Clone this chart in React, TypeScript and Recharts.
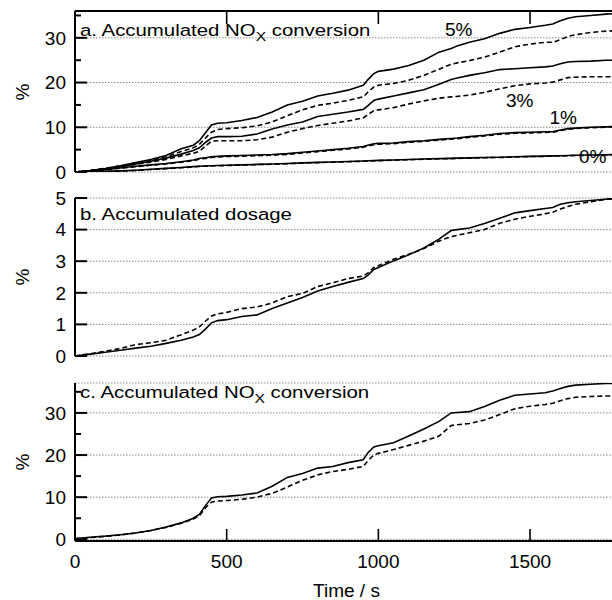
import React from 'react';
import { LineChart, Line, XAxis, YAxis, CartesianGrid } from 'recharts';

// ---------- data ----------
const times = [0, 50, 100, 150, 200, 250, 300, 350, 390, 410, 430, 450, 470, 500, 550, 600, 650, 700, 750, 800, 850, 900, 950, 965, 985, 1000, 1050, 1100, 1150, 1200, 1240, 1260, 1300, 1350, 1400, 1450, 1500, 1550, 1575, 1600, 1625, 1650, 1700, 1750, 1790];

// panel a: accumulated NOx conversion, solid / dashed for 5%, 3%, 1%, 0%
const a5Solid = [0, 0.3, 0.8, 1.4, 2.1, 2.8, 3.7, 5.2, 6.0, 7.0, 8.8, 10.5, 10.9, 11.0, 11.5, 12.2, 13.4, 15.0, 15.8, 17.0, 17.6, 18.3, 19.4, 20.6, 22.0, 22.5, 23.0, 23.8, 25.0, 26.8, 27.6, 28.2, 29.0, 29.8, 31.0, 31.9, 32.3, 32.8, 33.1, 33.8, 34.4, 34.7, 35.0, 35.3, 35.5];
const a5Dashed = [0, 0.3, 0.8, 1.4, 2.0, 2.6, 3.4, 4.6, 5.4, 6.2, 7.6, 8.9, 9.5, 9.7, 9.9, 10.3, 11.2, 12.6, 13.9, 14.9, 15.4, 16.0, 16.8, 17.8, 19.0, 19.4, 19.8, 20.5, 21.6, 23.0, 24.1, 24.4, 24.9, 25.7, 26.8, 28.0, 28.6, 29.0, 29.0, 29.6, 30.3, 30.7, 31.2, 31.5, 31.6];
const a3Solid = [0, 0.3, 0.7, 1.2, 1.8, 2.4, 3.1, 4.0, 4.8, 5.4, 6.6, 7.6, 7.9, 7.9, 8.0, 8.5, 9.6, 10.5, 11.2, 12.4, 12.9, 13.4, 14.0, 14.8, 16.0, 16.3, 17.0, 17.7, 18.4, 19.6, 20.7, 21.0, 21.6, 22.2, 22.9, 23.1, 23.3, 23.5, 23.7, 24.2, 24.6, 24.7, 24.8, 25.0, 25.0];
const a3Dashed = [0, 0.3, 0.7, 1.2, 1.7, 2.2, 2.8, 3.6, 4.2, 4.6, 5.8, 6.9, 7.0, 7.0, 7.0, 7.2, 7.8, 8.9, 9.7, 10.4, 10.9, 11.4, 12.1, 12.8, 13.7, 13.9, 14.4, 15.2, 15.9, 16.5, 16.8, 16.9, 17.2, 17.8, 18.6, 19.3, 19.7, 19.9, 20.1, 20.6, 21.1, 21.2, 21.3, 21.3, 21.3];
const a1Solid = [0, 0.2, 0.5, 0.9, 1.3, 1.6, 1.9, 2.3, 2.7, 3.0, 3.2, 3.4, 3.5, 3.6, 3.7, 3.8, 3.9, 4.1, 4.4, 4.7, 5.0, 5.3, 5.7, 6.0, 6.3, 6.4, 6.5, 6.8, 7.0, 7.3, 7.5, 7.6, 7.9, 8.2, 8.6, 8.8, 8.9, 9.0, 9.0, 9.4, 9.7, 9.8, 10.0, 10.1, 10.2];
const a1Dashed = [0, 0.2, 0.5, 0.85, 1.2, 1.5, 1.8, 2.2, 2.55, 2.85, 3.05, 3.25, 3.35, 3.45, 3.55, 3.65, 3.75, 3.95, 4.25, 4.55, 4.85, 5.15, 5.55, 5.8, 6.1, 6.2, 6.35, 6.65, 6.85, 7.15, 7.35, 7.45, 7.75, 8.05, 8.45, 8.65, 8.75, 8.85, 8.9, 9.25, 9.55, 9.7, 9.9, 10.0, 10.1];
const a0Solid = [0, 0.05, 0.15, 0.25, 0.4, 0.6, 0.8, 1.0, 1.2, 1.3, 1.35, 1.4, 1.45, 1.5, 1.6, 1.7, 1.8, 1.9, 2.05, 2.15, 2.25, 2.35, 2.45, 2.5, 2.55, 2.6, 2.7, 2.8, 2.9, 3.0, 3.05, 3.1, 3.15, 3.25, 3.3, 3.4, 3.5, 3.55, 3.6, 3.65, 3.7, 3.75, 3.8, 3.85, 3.9];
const a0Dashed = [0, 0.05, 0.1, 0.2, 0.35, 0.55, 0.75, 0.95, 1.15, 1.25, 1.3, 1.35, 1.4, 1.45, 1.55, 1.65, 1.75, 1.85, 2.0, 2.1, 2.2, 2.3, 2.4, 2.45, 2.5, 2.55, 2.65, 2.75, 2.85, 2.95, 3.0, 3.05, 3.1, 3.2, 3.25, 3.35, 3.45, 3.5, 3.55, 3.6, 3.65, 3.7, 3.75, 3.8, 3.85];

// panel b: accumulated dosage
const bSolid = [0, 0.06, 0.12, 0.18, 0.25, 0.31, 0.4, 0.5, 0.6, 0.68, 0.85, 1.05, 1.12, 1.15, 1.25, 1.3, 1.5, 1.68, 1.85, 2.06, 2.2, 2.33, 2.45, 2.55, 2.74, 2.8, 3.01, 3.2, 3.42, 3.7, 3.97, 4.0, 4.05, 4.19, 4.36, 4.53, 4.6, 4.67, 4.7, 4.8, 4.85, 4.88, 4.92, 4.96, 4.98];
const bDashed = [0, 0.07, 0.15, 0.24, 0.36, 0.42, 0.5, 0.67, 0.82, 0.92, 1.1, 1.27, 1.33, 1.38, 1.5, 1.55, 1.68, 1.88, 1.98, 2.2, 2.32, 2.45, 2.53, 2.62, 2.8, 2.86, 3.06, 3.22, 3.4, 3.64, 3.78, 3.82, 3.9, 4.0, 4.2, 4.33, 4.42, 4.5, 4.55, 4.65, 4.73, 4.8, 4.88, 4.96, 5.0];

// panel c: accumulated NOx conversion
const cSolid = [0.2, 0.5, 0.75, 1.1, 1.5, 2.1, 2.9, 3.9, 5.0, 5.9, 8.0, 9.8, 10.1, 10.2, 10.5, 11.0, 12.6, 14.7, 15.6, 16.9, 17.3, 18.2, 18.9, 20.5, 21.9, 22.2, 22.9, 24.5, 26.2, 28.0, 30.0, 30.1, 30.3, 31.5, 33.0, 34.2, 34.5, 34.8, 35.2, 35.8, 36.3, 36.6, 36.8, 37.0, 37.0];
const cDashed = [0.1, 0.4, 0.7, 1.05, 1.5, 2.1, 2.8, 3.8, 4.8, 5.6, 7.5, 8.8, 9.1, 9.2, 9.5, 10.0, 10.9, 12.4, 14.0, 15.3, 16.1, 16.6, 17.3, 18.6, 20.0, 20.4, 21.3, 22.3, 23.3, 24.5, 27.0, 27.2, 27.5, 28.3, 29.6, 31.0, 31.6, 32.0, 32.3, 32.9, 33.4, 33.7, 33.9, 34.0, 34.0];

// ticks
const xTicksTop = [500, 1000, 1500];
const xTicksBottom = [0, 500, 1000, 1500];
const yTicksA = [0, 5, 10, 15, 20, 25, 30, 35];
const yMajorA = [0, 10, 20, 30];
const yTicksB = [0, 1, 2, 3, 4, 5];
const yTicksC = [0, 5, 10, 15, 20, 25, 30, 35];
const yMajorC = [0, 10, 20, 30];

const xDomain: [number, number] = [0, 1790];

const dataA = times.map((t, i) => ({
  t, a5s: a5Solid[i], a5d: a5Dashed[i], a3s: a3Solid[i], a3d: a3Dashed[i],
  a1s: a1Solid[i], a1d: a1Dashed[i], a0s: a0Solid[i], a0d: a0Dashed[i],
}));
const dataB = times.map((t, i) => ({ t, s: bSolid[i], d: bDashed[i] }));
const dataC = times.map((t, i) => ({ t, s: cSolid[i], d: cDashed[i] }));

// ---------- layout / styles ----------
const FONT = '"Liberation Sans", Arial, Helvetica, sans-serif';
const AXIS = { stroke: '#000', strokeWidth: 2 };
const LINE_W = 1.6;
const DASH = '5 3';
const CHART_W = 618;
const Y_AXIS_W = 75;
const PLOT_TOP_A = 11;
const PLOT_BOTTOM_C = 541;
// same linear mapping as the charts' x axis (plot spans Y_AXIS_W .. CHART_W)
const sx = (v: number) => Y_AXIS_W + ((v - xDomain[0]) / (xDomain[1] - xDomain[0])) * (CHART_W - Y_AXIS_W);

const makeLeftTick = (majors: number[]) => (props: any) => {
  const { x, y, payload } = props;
  const v = Number(payload.value);
  const major = majors.some((m) => Math.abs(m - v) < 1e-6);
  return (
    <g>
      <line x1={x} y1={y} x2={x + (major ? 12 : 6)} y2={y} stroke="#000" strokeWidth={2} />
      {major && (
        <text x={x - 9} y={y} dy="0.36em" textAnchor="end" fontSize={19} fontFamily={FONT} fill="#000">
          {v}
        </text>
      )}
    </g>
  );
};

const RightTick = (props: any) => {
  const { x, y } = props;
  return <line x1={x - 12} y1={y} x2={x} y2={y} stroke="#000" strokeWidth={2} />;
};

const BottomTickLabel = (props: any) => {
  const { x, y, payload } = props;
  return (
    <text x={x} y={y + 27} textAnchor="middle" fontSize={19} fontFamily={FONT} fill="#000">
      {payload.value}
    </text>
  );
};

const solid = (key: string) => (
  <Line key={key} type="linear" dataKey={key} stroke="#000" strokeWidth={LINE_W} dot={false} isAnimationActive={false} />
);
const dashed = (key: string) => (
  <Line key={key} type="linear" dataKey={key} stroke="#000" strokeWidth={LINE_W} strokeDasharray={DASH} dot={false} isAnimationActive={false} />
);

const gridProps = { vertical: false, stroke: '#8a8a8a', strokeDasharray: '1.5 1.5', yAxisId: 'right' } as any;

const Title = ({ x, y, children }: { x: number; y: number; children: React.ReactNode }) => (
  <text transform={`translate(${x},${y}) scale(1.2,1)`} fontSize={17} fontFamily={FONT} fill="#000">
    {children}
  </text>
);

const NOxTitle = ({ prefix }: { prefix: string }) => (
  <>
    {prefix}. Accumulated NO
    <tspan fontSize={13} dy={5}>X</tspan>
    <tspan dy={-5}> conversion</tspan>
  </>
);

const PctLabel = ({ cy }: { cy: number }) => (
  <text x={28.5} y={cy} transform={`rotate(-90, 28.5, ${cy})`} textAnchor="middle" fontSize={19} fontFamily={FONT} fill="#000">
    %
  </text>
);

const Note = ({ x, y, text }: { x: number; y: number; text: string }) => (
  <text x={x} y={y} fontSize={19} fontFamily={FONT} fill="#000">{text}</text>
);

export default function App() {
  return (
    <div style={{ position: 'absolute', left: 0, top: 0, width: 612, height: 600, overflow: 'hidden', background: '#fff' }}>
      {/* panel a */}
      <div style={{ position: 'absolute', left: 0, top: 0 }}>
        <LineChart width={CHART_W} height={184} data={dataA} margin={{ top: 0, right: 0, bottom: 12, left: 0 }}>
          <XAxis dataKey="t" type="number" domain={xDomain} allowDataOverflow hide />
          <XAxis xAxisId="top" orientation="top" dataKey="t" type="number" domain={xDomain} allowDataOverflow
            height={PLOT_TOP_A} tick={false} tickLine={false} axisLine={AXIS} />
          <YAxis type="number" domain={[0, 36]} allowDataOverflow ticks={yTicksA} interval={0} width={Y_AXIS_W} tickSize={0} tickMargin={0}
            tickLine={false} axisLine={AXIS} tick={makeLeftTick(yMajorA)} />
          <YAxis yAxisId="right" orientation="right" type="number" domain={[0, 36]} allowDataOverflow ticks={yMajorA} interval={0}
            width={0} tickSize={0} tickMargin={0} tickLine={false} axisLine={AXIS} tick={RightTick} />
          <CartesianGrid {...gridProps} />
          {solid('a0s')}
          {dashed('a0d')}
          {solid('a1s')}
          {dashed('a1d')}
          {solid('a3s')}
          {dashed('a3d')}
          {solid('a5s')}
          {dashed('a5d')}
        </LineChart>
      </div>

      {/* panel b */}
      <div style={{ position: 'absolute', left: 0, top: 185 }}>
        <LineChart width={CHART_W} height={185} data={dataB} margin={{ top: 13, right: 0, bottom: 14, left: 0 }}>
          <XAxis dataKey="t" type="number" domain={xDomain} allowDataOverflow hide />
          <YAxis type="number" domain={[0, 5]} allowDataOverflow ticks={yTicksB} interval={0} width={Y_AXIS_W} tickSize={0} tickMargin={0}
            tickLine={false} axisLine={AXIS} tick={makeLeftTick(yTicksB)} />
          <YAxis yAxisId="right" orientation="right" type="number" domain={[0, 5]} allowDataOverflow ticks={yTicksB} interval={0}
            width={0} tickSize={0} tickMargin={0} tickLine={false} axisLine={AXIS} tick={RightTick} />
          <CartesianGrid {...gridProps} />
          {solid('s')}
          {dashed('d')}
        </LineChart>
      </div>

      {/* panel c */}
      <div style={{ position: 'absolute', left: 0, top: 370 }}>
        <LineChart width={CHART_W} height={230} data={dataC} margin={{ top: 13, right: 0, bottom: 0, left: 0 }}>
          <XAxis dataKey="t" type="number" domain={xDomain} allowDataOverflow ticks={xTicksBottom} interval={0} height={59}
            tickSize={0} tickMargin={0} tickLine={false} axisLine={AXIS} tick={BottomTickLabel}
            label={{ value: 'Time / s', position: 'insideBottom', offset: 3, fontSize: 19, fontFamily: FONT, fill: '#000' }} />
          <YAxis type="number" domain={[-0.4, 37.1]} allowDataOverflow ticks={yTicksC} interval={0} width={Y_AXIS_W} tickSize={0} tickMargin={0}
            tickLine={false} axisLine={AXIS} tick={makeLeftTick(yMajorC)} />
          <YAxis yAxisId="right" orientation="right" type="number" domain={[-0.4, 37.1]} allowDataOverflow ticks={yMajorC} interval={0}
            width={0} tickSize={0} tickMargin={0} tickLine={false} axisLine={AXIS} tick={RightTick} />
          <CartesianGrid {...gridProps} />
          {solid('s')}
          {dashed('d')}
        </LineChart>
      </div>

      {/* overlay: frame ticks on the x axes, titles, annotations */}
      <svg width={612} height={600} style={{ position: 'absolute', left: 0, top: 0, pointerEvents: 'none' }}>
        {xTicksTop.map((v) => (
          <line key={`t${v}`} x1={sx(v)} x2={sx(v)} y1={PLOT_TOP_A} y2={PLOT_TOP_A + 13} stroke="#000" strokeWidth={1.6} />
        ))}
        {xTicksTop.map((v) => (
          <line key={`b${v}`} x1={sx(v)} x2={sx(v)} y1={PLOT_BOTTOM_C} y2={PLOT_BOTTOM_C - 12} stroke="#000" strokeWidth={1.6} />
        ))}
        <Title x={80} y={36}><NOxTitle prefix="a" /></Title>
        <Title x={80} y={219.5}>b. Accumulated dosage</Title>
        <Title x={80} y={398}><NOxTitle prefix="c" /></Title>
        <PctLabel cy={92} />
        <PctLabel cy={277} />
        <PctLabel cy={462} />
        <Note x={445} y={36} text="5%" />
        <Note x={506} y={107} text="3%" />
        <Note x={549.5} y={124} text="1%" />
        <Note x={579} y={162.5} text="0%" />
      </svg>
    </div>
  );
}
